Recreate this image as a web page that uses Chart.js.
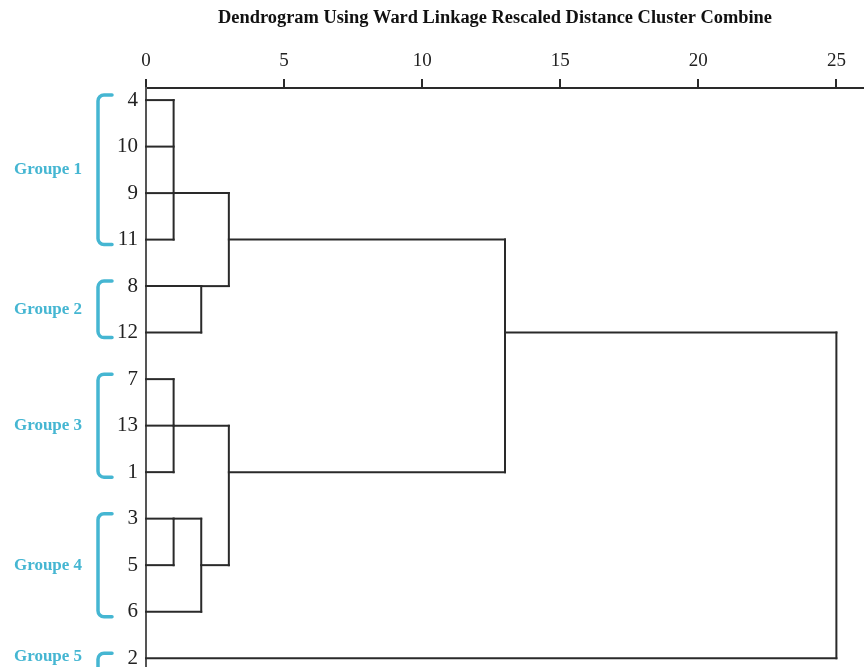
<!DOCTYPE html>
<html>
<head>
<meta charset="utf-8">
<script src="https://cdn.jsdelivr.net/npm/chart.js@4.4.0/dist/chart.umd.min.js"></script>
<style>
html, body { margin: 0; padding: 0; background: #fff; }
#wrap { width: 864px; height: 667px; }
</style>
</head>
<body>
<div id="wrap"><canvas id="dendro"></canvas></div>
<script>
// leaves, top to bottom
const leafLabels = ['4', '10', '9', '11', '8', '12', '7', '13', '1', '3', '5', '6', '2'];
const xTicks = [0, 5, 10, 15, 20, 25];

// merges: children are leaf rows or 'm' + merge index
const mergeChildren = [
    [0, 1, 2, 3],
    [4, 5],
    ['m0', 'm1'],
    [6, 7, 8],
    [9, 10],
    ['m4', 11],
    ['m3', 'm5'],
    ['m2', 'm6'],
    ['m7', 12]
];
const mergeDistance = [1, 2, 3, 1, 1, 2, 3, 13, 25];
// row from which the merged cluster continues to the right
const mergeRow = [2, 4, 3, 7, 9, 10, 8, 5, 5];

const groupNames = ['Groupe 1', 'Groupe 2', 'Groupe 3', 'Groupe 4', 'Groupe 5'];
const groupFirst = [0, 4, 6, 9, 12];
const groupLast = [3, 5, 8, 11, 12];

const titleText = 'Dendrogram Using Ward Linkage Rescaled Distance Cluster Combine';
const cyan = '#45b6d2';
const ink = '#2a2a2a';

// turn the merges into line segments
const nodes = {};
leafLabels.forEach((_, i) => { nodes[i] = { dist: 0, row: i }; });
const segments = [];
mergeChildren.forEach((kids, m) => {
    const d = mergeDistance[m];
    const rows = [];
    kids.forEach(k => {
        const n = nodes[k];
        segments.push([{ x: n.dist, y: n.row }, { x: d, y: n.row }]);
        rows.push(n.row);
    });
    segments.push([{ x: d, y: Math.min(...rows) }, { x: d, y: Math.max(...rows) }]);
    nodes['m' + m] = { dist: d, row: mergeRow[m] };
});

const datasets = segments.map(pts => ({
    data: pts,
    showLine: true,
    borderColor: ink,
    borderWidth: 2,
    pointRadius: 0,
    borderCapStyle: 'square',
    clip: false
}));

const groupPlugin = {
    id: 'groups',
    afterDraw(chart) {
        const ctx = chart.ctx;
        const y = chart.scales.y;
        ctx.save();
        ctx.fillStyle = '#111';
        ctx.font = 'bold 18.4px "Liberation Serif"';
        ctx.textAlign = 'center';
        ctx.textBaseline = 'middle';
        ctx.fillText(titleText, 495, 18);

        groupNames.forEach((name, i) => {
            const top = y.getPixelForValue(groupFirst[i]) - 5;
            let bot = y.getPixelForValue(groupLast[i]) + 5;
            // the last bracket runs off the bottom of the picture
            if (i === groupNames.length - 1) bot = chart.height + 10;
            const xl = 98, xr = 112, r = 6;
            ctx.strokeStyle = cyan;
            ctx.lineWidth = 3.5;
            ctx.lineCap = 'round';
            ctx.beginPath();
            ctx.moveTo(xr, top);
            ctx.arcTo(xl, top, xl, bot, r);
            ctx.arcTo(xl, bot, xr, bot, r);
            ctx.lineTo(xr, bot);
            ctx.stroke();

            const mid = i === groupNames.length - 1 ? y.getPixelForValue(groupFirst[i]) - 2 : (top + bot) / 2;
            ctx.fillStyle = cyan;
            ctx.font = 'bold 17px "Liberation Serif"';
            ctx.fillText(name, 48, mid);
        });
        ctx.restore();
    }
};

new Chart(document.getElementById('dendro'), {
    type: 'scatter',
    data: { datasets },
    options: {
        responsive: true,
        maintainAspectRatio: false,
        animation: false,
        layout: { padding: 0 },
        plugins: {
            legend: { display: false },
            tooltip: { enabled: false }
        },
        scales: {
            x: {
                type: 'linear',
                position: 'top',
                min: 0,
                max: 26,
                afterBuildTicks: scale => { scale.ticks = xTicks.map(v => ({ value: v })); },
                afterFit: scale => {
                    scale.height = 88;
                    scale.paddingLeft = 0;
                    scale.paddingRight = 0;
                },
                grid: {
                    drawOnChartArea: false,
                    drawTicks: true,
                    tickLength: 9,
                    color: ink,
                    lineWidth: 2
                },
                border: { display: true, color: ink, width: 2 },
                ticks: {
                    padding: 7,
                    color: '#222',
                    font: { family: 'Liberation Serif', size: 19 },
                    maxRotation: 0
                }
            },
            y: {
                type: 'linear',
                reverse: true,
                min: -0.26,
                max: 12.19,
                afterBuildTicks: scale => { scale.ticks = leafLabels.map((_, i) => ({ value: i })); },
                afterFit: scale => {
                    scale.width = 146;
                    scale.paddingTop = 0;
                    scale.paddingBottom = 0;
                },
                grid: { drawOnChartArea: false, drawTicks: false },
                border: { display: true, color: '#555', width: 2 },
                ticks: {
                    padding: 8,
                    autoSkip: false,
                    color: '#222',
                    font: { family: 'Liberation Serif', size: 21 },
                    callback: (v, i) => leafLabels[i]
                }
            }
        }
    },
    plugins: [groupPlugin]
});
</script>
</body>
</html>
